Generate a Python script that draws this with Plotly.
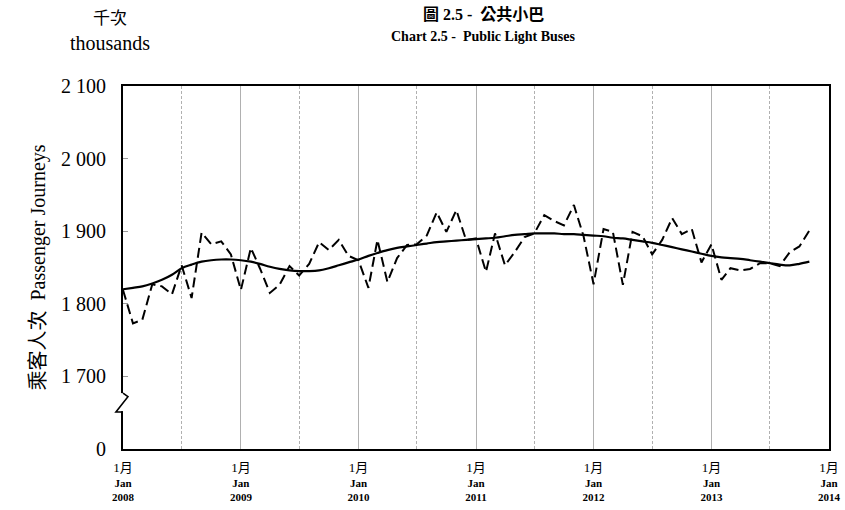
import plotly.graph_objects as go
import pandas as pd

# monthly passenger journeys (thousands), Jan 2008 - Nov 2013
months = pd.date_range("2008-01-01", "2013-11-01", freq="MS")

journeys = [
    1819, 1773, 1778, 1827, 1824, 1813, 1853, 1808, 1898, 1882, 1886, 1868,  # 2008
    1819, 1877, 1849, 1815, 1826, 1852, 1839, 1855, 1885, 1874, 1888, 1866,  # 2009
    1860, 1822, 1888, 1830, 1863, 1881, 1882, 1894, 1926, 1899, 1929, 1888,  # 2010
    1890, 1844, 1897, 1853, 1871, 1892, 1897, 1922, 1914, 1908, 1936, 1893,  # 2011
    1827, 1903, 1899, 1826, 1899, 1893, 1868, 1888, 1918, 1896, 1903, 1857,  # 2012
    1882, 1833, 1849, 1846, 1848, 1856, 1856, 1852, 1871, 1879, 1901,        # 2013
]

trend = [
    1820, 1822, 1824, 1828, 1833, 1840, 1849, 1854, 1858, 1860, 1861, 1861,
    1860, 1858, 1855, 1851, 1848, 1846, 1845, 1845, 1846, 1849, 1853, 1857,
    1861, 1866, 1870, 1874, 1877, 1879, 1881, 1883, 1885, 1886, 1887, 1888,
    1889, 1890, 1891, 1893, 1895, 1896, 1897, 1897, 1897, 1896, 1896, 1895,
    1894, 1893, 1891, 1890, 1888, 1886, 1884, 1881, 1878, 1875, 1872, 1869,
    1866, 1864, 1863, 1862, 1860, 1858, 1856, 1854, 1853, 1855, 1858,
]

years = [2008, 2009, 2010, 2011, 2012, 2013, 2014]
y_ticks = [1600, 1700, 1800, 1900, 2000, 2100]
y_labels = ["0", "1 700", "1 800", "1 900", "2 000", "2 100"]

serif = "Liberation Serif, Times New Roman, Noto Sans CJK TC"

fig = go.Figure()
fig.add_trace(go.Scatter(
    x=months, y=journeys, mode="lines",
    line=dict(color="black", width=2, dash="10px,5px"),
    showlegend=False
))
fig.add_trace(go.Scatter(
    x=months, y=trend, mode="lines",
    line=dict(color="black", width=2.2, shape="spline"),
    showlegend=False
))

x_tickvals = [f"{y}-01-01" for y in years]
x_ticktext = [
    f"<span style='font-size:13px'>1月</span><br><b>Jan</b><br><b>{y}</b>" for y in years
]

fig.update_xaxes(
    range=["2008-01-01", "2014-01-01"],
    tickmode="array", tickvals=x_tickvals, ticktext=x_ticktext,
    tickfont=dict(family=serif, size=11, color="black"),
    ticks="", ticklabelstandoff=8, automargin=False,
    showgrid=True, gridcolor="#b0b0b0", gridwidth=1,
    minor=dict(dtick="M6", tick0="2008-07-01", showgrid=True,
               gridcolor="#b0b0b0", griddash="3px,2px", gridwidth=1),
    showline=True, linecolor="black", linewidth=2, mirror=True,
    zeroline=False,
)
fig.update_yaxes(
    range=[1600, 2100], automargin=False,
    tickmode="array", tickvals=y_ticks, ticktext=y_labels,
    tickfont=dict(family=serif, size=20, color="black"),
    ticks="inside", ticklen=5, tickcolor="#999999", ticklabelstandoff=11,
    showgrid=False, zeroline=False,
    showline=True, linecolor="black", linewidth=2, mirror=True,
    title=dict(text="乘客人次  Passenger Journeys",
               font=dict(family=serif, size=20, color="black"), standoff=10),
)

# axis break marker on the left axis
fig.add_shape(type="line", xref="paper", yref="y", x0=-0.003, x1=-0.003,
              y0=1652, y1=1677, line=dict(color="white", width=6), layer="above")
fig.add_shape(type="path", xref="paper", yref="y",
              path="M 0,1677 L 0.007,1672 L -0.010,1651 L 0,1651",
              line=dict(color="black", width=1.6), layer="above")

fig.add_annotation(text="<b>圖 2.5 -  公共小巴</b>", xref="paper", yref="paper",
                   x=0.51, y=1.198, showarrow=False, xanchor="center", yanchor="middle",
                   font=dict(family=serif, size=16, color="black"))
fig.add_annotation(text="<b>Chart 2.5 -  Public Light Buses</b>", xref="paper", yref="paper",
                   x=0.51, y=1.135, showarrow=False, xanchor="center", yanchor="middle",
                   font=dict(family=serif, size=14, color="black"))
fig.add_annotation(text="千次", xref="paper", yref="paper",
                   x=-0.018, y=1.187, showarrow=False, xanchor="center", yanchor="middle",
                   font=dict(family=serif, size=17, color="black"))
fig.add_annotation(text="thousands", xref="paper", yref="paper",
                   x=-0.018, y=1.118, showarrow=False, xanchor="center", yanchor="middle",
                   font=dict(family=serif, size=20, color="black"))

fig.update_layout(
    width=845, height=510,
    margin=dict(l=123, r=16, t=86, b=61),
    plot_bgcolor="white", paper_bgcolor="white",
)

fig.write_html("out.html", config={"displayModeBar": False},
               post_script="document.body.style.margin='0px';")
